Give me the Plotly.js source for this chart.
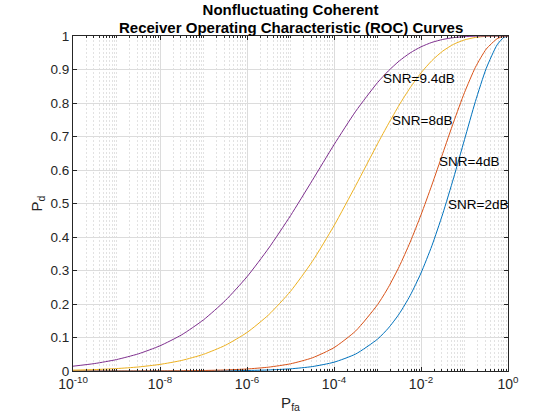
<!DOCTYPE html>
<html>
<head>
<meta charset="utf-8">
<script src="https://cdn.plot.ly/plotly-3.0.1.min.js"></script>
<style>html,body{margin:0;padding:0;background:#fff;}#chart{width:560px;height:420px;}</style>
</head>
<body>
<div id="chart"></div>
<script>
// Probability of false alarm (x values)
const pfa = [1e-10, 3.162e-10, 1e-9, 3.162e-9, 1e-8, 3.162e-8, 1e-7, 3.162e-7, 1e-6, 3.162e-6,
  1e-5, 3.162e-5, 1e-4, 3.162e-4, 1e-3, 1.778e-3, 3.162e-3, 5.623e-3, 1e-2, 1.778e-2,
  3.162e-2, 5.623e-2, 1e-1, 1.778e-1, 3.162e-1, 5.623e-1, 7.943e-1, 1];

// Probability of detection per SNR
const pd_2dB = [2.3e-6, 5.3e-6, 1.23e-5, 2.8e-5, 6.4e-5, 1.42e-4, 3.14e-4, 6.87e-4, 0.00147, 0.00313,
  0.00648, 0.01318, 0.02625, 0.0508, 0.0951, 0.1280, 0.1708, 0.2251, 0.2925, 0.3737,
  0.4693, 0.5765, 0.6908, 0.8043, 0.9035, 0.9736, 0.99535, 1];
const pd_4dB = [1.89e-5, 4.1e-5, 8.6e-5, 1.8e-4, 3.74e-4, 7.6e-4, 0.00155, 0.00308, 0.0060, 0.01151,
  0.0215, 0.0392, 0.0697, 0.1198, 0.1979, 0.2498, 0.3121, 0.3844, 0.4661, 0.5553,
  0.6495, 0.7434, 0.8312, 0.9063, 0.9610, 0.9918, 0.9989, 1];
const pd_8dB = [0.00249, 0.00426, 0.00722, 0.01204, 0.0197, 0.0316, 0.0498, 0.0766, 0.1149, 0.1680,
  0.2379, 0.3267, 0.4337, 0.5537, 0.6780, 0.7376, 0.7942, 0.8454, 0.8899, 0.9265,
  0.9550, 0.9753, 0.9884, 0.99572, 0.99894, 0.9999, 1, 1];
const pd_9p4dB = [0.01437, 0.0223, 0.0341, 0.0511, 0.0752, 0.1082, 0.1527, 0.2101, 0.2813, 0.3669,
  0.4637, 0.5687, 0.6754, 0.7755, 0.8608, 0.8958, 0.9255, 0.9494, 0.9677, 0.9809,
  0.9897, 0.99516, 0.9981, 0.99943, 0.99989, 0.99999, 1, 1];

const seriesNames = ['SNR=2dB', 'SNR=4dB', 'SNR=8dB', 'SNR=9.4dB'];
const seriesPd = [pd_2dB, pd_4dB, pd_8dB, pd_9p4dB];
const seriesColors = ['#0072BD', '#D95319', '#EDB120', '#7E2F8E'];

// Label anchor positions (log10 Pfa, Pd)
const labelText = ['SNR=2dB', 'SNR=4dB', 'SNR=8dB', 'SNR=9.4dB'];
const labelLogPfa = [-1.395, -1.60, -2.70, -2.90];
const labelPd = [0.4985, 0.624, 0.749, 0.872];

// Title lines
const titleLine1 = 'Nonfluctuating Coherent';
const titleLine2 = 'Receiver Operating Characteristic (ROC) Curves';

// Axis ticks
const xTickVals = [1e-10, 1e-8, 1e-6, 1e-4, 1e-2, 1];
const xTickText = ['10<sup>-10</sup>', '10<sup>-8</sup>', '10<sup>-6</sup>', '10<sup>-4</sup>', '10<sup>-2</sup>', '10<sup>0</sup>'];
const yTicks = [0, 0.1, 0.2, 0.3, 0.4, 0.5, 0.6, 0.7, 0.8, 0.9, 1];

const font = 'Liberation Sans, Arial, Helvetica, sans-serif';
const axisColor = '#262626';

const traces = seriesPd.map((pd, i) => ({
  x: pfa, y: pd, type: 'scatter', mode: 'lines', name: seriesNames[i],
  line: {color: seriesColors[i], width: 1, shape: 'spline', smoothing: 0.6},
  hoverinfo: 'skip'
}));

const annotations = labelText.map((t, i) => ({
  x: labelLogPfa[i], y: labelPd[i], xref: 'x', yref: 'y', text: t, showarrow: false,
  xanchor: 'left', yanchor: 'middle', borderpad: 0,
  font: {family: font, size: 13.5, color: '#000'}
}));
annotations.push({
  x: 0.5, y: 1, xref: 'paper', yref: 'paper', text: '<b>' + titleLine2 + '</b>',
  showarrow: false, xanchor: 'center', yanchor: 'middle', yshift: 9, borderpad: 0,
  font: {family: font, size: 15, color: '#000'}
});

const layout = {
  width: 560, height: 420,
  margin: {l: 73, r: 52, t: 36, b: 49, pad: 0},
  paper_bgcolor: '#fff', plot_bgcolor: '#fff',
  showlegend: false,
  title: {
    text: '<b>' + titleLine1 + '</b>',
    font: {family: font, size: 15, color: '#000'},
    xref: 'paper', x: 0.5, xanchor: 'center', yref: 'paper', y: 1, yanchor: 'bottom',
    pad: {b: 21}
  },
  xaxis: {
    type: 'log', range: [-10, 0],
    tickmode: 'array', tickvals: xTickVals, ticktext: xTickText,
    ticks: 'inside', ticklen: 4, tickcolor: axisColor,
    showline: true, linecolor: axisColor, linewidth: 1, mirror: 'ticks',
    showgrid: true, gridcolor: '#dcdcdc', gridwidth: 1,
    zeroline: false,
    tickfont: {family: font, size: 14, color: axisColor},
    minor: {dtick: 'D1', ticks: 'inside', ticklen: 2, tickcolor: axisColor,
            showgrid: true, gridcolor: '#e2e2e2', griddash: '2px,2px', gridwidth: 1},
    title: {text: 'P<sub>fa</sub>', font: {family: font, size: 15, color: axisColor}, standoff: 6}
  },
  yaxis: {
    range: [0, 1], tickmode: 'array', tickvals: yTicks, ticktext: yTicks.map(String),
    ticks: 'inside', ticklen: 4, tickcolor: axisColor,
    showline: true, linecolor: axisColor, linewidth: 1, mirror: 'ticks',
    showgrid: true, gridcolor: '#dcdcdc', gridwidth: 1,
    zeroline: false,
    tickfont: {family: font, size: 13.5, color: axisColor},
    title: {text: 'P<sub>d</sub>', font: {family: font, size: 15, color: axisColor}, standoff: 4}
  },
  annotations: annotations
};

Plotly.newPlot('chart', traces, layout, {displayModeBar: false, staticPlot: true});
</script>
</body>
</html>
